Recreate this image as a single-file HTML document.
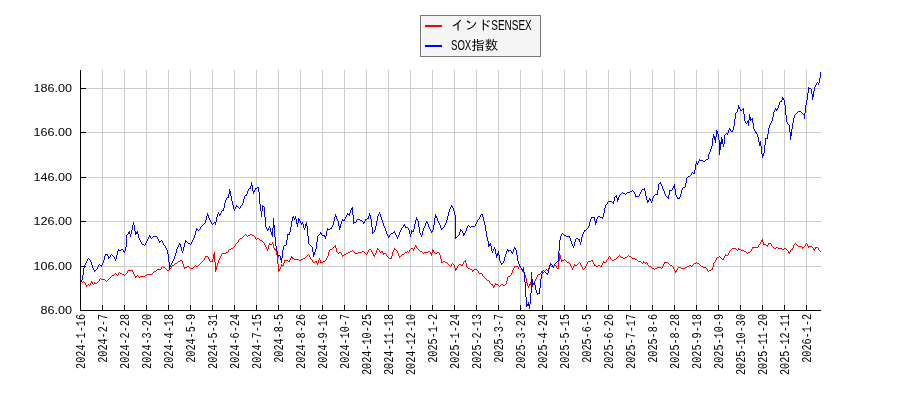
<!DOCTYPE html>
<html lang="ja"><head><meta charset="utf-8"><title>インドSENSEX / SOX指数</title>
<style>
html,body{margin:0;padding:0;background:#fff;}
body{width:900px;height:400px;overflow:hidden;position:relative;}
svg{position:absolute;left:0;top:0;display:block;}
.yl{font-family:"Liberation Sans",sans-serif;font-size:11.2px;fill:#000;}
.xl{font-family:"Liberation Mono",monospace;font-size:12.6px;fill:#000;}
.lg{font-family:"Liberation Sans","IPAGothic",sans-serif;font-size:13.45px;fill:#000;}
</style></head><body>
<svg width="900" height="400" viewBox="0 0 900 400">
<rect width="900" height="400" fill="#fff"/>
<g shape-rendering="crispEdges">
<rect x="102" y="70" width="1" height="240" fill="#ccc"/>
<rect x="124" y="70" width="1" height="240" fill="#ccc"/>
<rect x="146" y="70" width="1" height="240" fill="#ccc"/>
<rect x="168" y="70" width="1" height="240" fill="#ccc"/>
<rect x="190" y="70" width="1" height="240" fill="#ccc"/>
<rect x="212" y="70" width="1" height="240" fill="#ccc"/>
<rect x="234" y="70" width="1" height="240" fill="#ccc"/>
<rect x="256" y="70" width="1" height="240" fill="#ccc"/>
<rect x="278" y="70" width="1" height="240" fill="#ccc"/>
<rect x="300" y="70" width="1" height="240" fill="#ccc"/>
<rect x="322" y="70" width="1" height="240" fill="#ccc"/>
<rect x="344" y="70" width="1" height="240" fill="#ccc"/>
<rect x="366" y="70" width="1" height="240" fill="#ccc"/>
<rect x="388" y="70" width="1" height="240" fill="#ccc"/>
<rect x="410" y="70" width="1" height="240" fill="#ccc"/>
<rect x="432" y="70" width="1" height="240" fill="#ccc"/>
<rect x="454" y="70" width="1" height="240" fill="#ccc"/>
<rect x="476" y="70" width="1" height="240" fill="#ccc"/>
<rect x="498" y="70" width="1" height="240" fill="#ccc"/>
<rect x="520" y="70" width="1" height="240" fill="#ccc"/>
<rect x="542" y="70" width="1" height="240" fill="#ccc"/>
<rect x="564" y="70" width="1" height="240" fill="#ccc"/>
<rect x="586" y="70" width="1" height="240" fill="#ccc"/>
<rect x="608" y="70" width="1" height="240" fill="#ccc"/>
<rect x="630" y="70" width="1" height="240" fill="#ccc"/>
<rect x="652" y="70" width="1" height="240" fill="#ccc"/>
<rect x="674" y="70" width="1" height="240" fill="#ccc"/>
<rect x="696" y="70" width="1" height="240" fill="#ccc"/>
<rect x="718" y="70" width="1" height="240" fill="#ccc"/>
<rect x="740" y="70" width="1" height="240" fill="#ccc"/>
<rect x="762" y="70" width="1" height="240" fill="#ccc"/>
<rect x="784" y="70" width="1" height="240" fill="#ccc"/>
<rect x="806" y="70" width="1" height="240" fill="#ccc"/>
<rect x="81" y="88" width="740" height="1" fill="#ccc"/>
<rect x="81" y="132" width="740" height="1" fill="#ccc"/>
<rect x="81" y="177" width="740" height="1" fill="#ccc"/>
<rect x="81" y="221" width="740" height="1" fill="#ccc"/>
<rect x="81" y="266" width="740" height="1" fill="#ccc"/>
<rect x="80" y="70" width="1" height="241" fill="#000"/>
<rect x="80" y="310" width="741" height="1" fill="#000"/>
<rect x="80" y="305" width="1" height="5" fill="#000"/>
<rect x="102" y="305" width="1" height="5" fill="#000"/>
<rect x="124" y="305" width="1" height="5" fill="#000"/>
<rect x="146" y="305" width="1" height="5" fill="#000"/>
<rect x="168" y="305" width="1" height="5" fill="#000"/>
<rect x="190" y="305" width="1" height="5" fill="#000"/>
<rect x="212" y="305" width="1" height="5" fill="#000"/>
<rect x="234" y="305" width="1" height="5" fill="#000"/>
<rect x="256" y="305" width="1" height="5" fill="#000"/>
<rect x="278" y="305" width="1" height="5" fill="#000"/>
<rect x="300" y="305" width="1" height="5" fill="#000"/>
<rect x="322" y="305" width="1" height="5" fill="#000"/>
<rect x="344" y="305" width="1" height="5" fill="#000"/>
<rect x="366" y="305" width="1" height="5" fill="#000"/>
<rect x="388" y="305" width="1" height="5" fill="#000"/>
<rect x="410" y="305" width="1" height="5" fill="#000"/>
<rect x="432" y="305" width="1" height="5" fill="#000"/>
<rect x="454" y="305" width="1" height="5" fill="#000"/>
<rect x="476" y="305" width="1" height="5" fill="#000"/>
<rect x="498" y="305" width="1" height="5" fill="#000"/>
<rect x="520" y="305" width="1" height="5" fill="#000"/>
<rect x="542" y="305" width="1" height="5" fill="#000"/>
<rect x="564" y="305" width="1" height="5" fill="#000"/>
<rect x="586" y="305" width="1" height="5" fill="#000"/>
<rect x="608" y="305" width="1" height="5" fill="#000"/>
<rect x="630" y="305" width="1" height="5" fill="#000"/>
<rect x="652" y="305" width="1" height="5" fill="#000"/>
<rect x="674" y="305" width="1" height="5" fill="#000"/>
<rect x="696" y="305" width="1" height="5" fill="#000"/>
<rect x="718" y="305" width="1" height="5" fill="#000"/>
<rect x="740" y="305" width="1" height="5" fill="#000"/>
<rect x="762" y="305" width="1" height="5" fill="#000"/>
<rect x="784" y="305" width="1" height="5" fill="#000"/>
<rect x="806" y="305" width="1" height="5" fill="#000"/>
<rect x="81" y="88" width="5" height="1" fill="#000"/>
<rect x="81" y="132" width="5" height="1" fill="#000"/>
<rect x="81" y="177" width="5" height="1" fill="#000"/>
<rect x="81" y="221" width="5" height="1" fill="#000"/>
<rect x="81" y="266" width="5" height="1" fill="#000"/>
<rect x="81" y="310" width="5" height="1" fill="#000"/>
</g>
<path fill="#f00" shape-rendering="crispEdges" d="M81 281h1v1h-1zM82 282h1v1h-1zM83 281h1v1h-1zM84 282h1v1h-1zM85 283h1v2h-1zM86 285h1v2h-1zM87 285h1v1h-1zM88 284h1v1h-1zM89 285h1v1h-1zM90 283h1v2h-1zM91 281h1v2h-1zM92 282h1v2h-1zM93 284h1v1h-1zM94 282h1v2h-1zM95 283h1v1h-1zM96 283h1v1h-1zM97 282h1v1h-1zM98 281h1v1h-1zM99 279h1v2h-1zM100 278h1v1h-1zM101 279h1v1h-1zM102 279h1v1h-1zM103 279h1v1h-1zM104 279h1v1h-1zM105 280h1v1h-1zM106 281h1v1h-1zM107 280h1v1h-1zM108 279h1v1h-1zM109 278h1v1h-1zM110 277h1v1h-1zM111 276h1v1h-1zM112 275h1v1h-1zM113 275h1v1h-1zM114 274h1v1h-1zM115 273h1v1h-1zM116 274h1v1h-1zM117 275h1v1h-1zM118 273h1v2h-1zM119 272h1v1h-1zM120 273h1v1h-1zM121 273h1v1h-1zM122 274h1v1h-1zM123 274h1v1h-1zM124 275h1v1h-1zM125 274h1v1h-1zM126 273h1v1h-1zM127 271h1v2h-1zM128 270h1v1h-1zM129 270h1v1h-1zM130 270h1v1h-1zM131 270h1v1h-1zM132 270h1v2h-1zM133 272h1v2h-1zM134 274h1v2h-1zM135 276h1v2h-1zM136 276h1v1h-1zM137 275h1v1h-1zM138 276h1v1h-1zM139 277h1v1h-1zM140 276h1v1h-1zM141 276h1v1h-1zM142 276h1v1h-1zM143 276h1v1h-1zM144 276h1v1h-1zM145 275h1v1h-1zM146 275h1v1h-1zM147 274h1v1h-1zM148 274h1v1h-1zM149 274h1v1h-1zM150 274h1v1h-1zM151 274h1v1h-1zM152 273h1v1h-1zM153 272h1v1h-1zM154 271h1v1h-1zM155 271h1v1h-1zM156 270h1v1h-1zM157 269h1v1h-1zM158 269h1v1h-1zM159 269h1v1h-1zM160 269h1v1h-1zM161 267h1v2h-1zM162 266h1v1h-1zM163 267h1v1h-1zM164 267h1v1h-1zM165 268h1v1h-1zM166 269h1v1h-1zM167 270h1v1h-1zM168 270h1v1h-1zM169 269h1v1h-1zM170 268h1v1h-1zM171 266h1v2h-1zM172 265h1v1h-1zM173 265h1v1h-1zM174 264h1v1h-1zM175 263h1v1h-1zM176 263h1v1h-1zM177 262h1v1h-1zM178 261h1v1h-1zM179 261h1v1h-1zM180 260h1v1h-1zM181 260h1v1h-1zM182 261h1v3h-1zM183 264h1v3h-1zM184 267h1v2h-1zM185 267h1v1h-1zM186 267h1v1h-1zM187 266h1v1h-1zM188 266h1v1h-1zM189 267h1v1h-1zM190 268h1v1h-1zM191 268h1v1h-1zM192 268h1v1h-1zM193 267h1v1h-1zM194 266h1v1h-1zM195 265h1v1h-1zM196 266h1v1h-1zM197 266h1v1h-1zM198 265h1v1h-1zM199 264h1v1h-1zM200 263h1v1h-1zM201 262h1v1h-1zM202 261h1v1h-1zM203 260h1v1h-1zM204 258h1v2h-1zM205 256h1v2h-1zM206 256h1v1h-1zM207 256h1v1h-1zM208 257h1v2h-1zM209 259h1v2h-1zM210 261h1v1h-1zM211 261h1v1h-1zM212 259h1v3h-1zM213 254h1v5h-1zM214 252h1v10h-1zM215 262h1v10h-1zM216 266h1v4h-1zM217 263h1v3h-1zM218 260h1v3h-1zM219 258h1v2h-1zM220 256h1v2h-1zM221 254h1v2h-1zM222 253h1v1h-1zM223 253h1v1h-1zM224 253h1v1h-1zM225 253h1v1h-1zM226 252h1v1h-1zM227 252h1v1h-1zM228 250h1v2h-1zM229 249h1v1h-1zM230 249h1v1h-1zM231 248h1v1h-1zM232 248h1v1h-1zM233 247h1v1h-1zM234 246h1v1h-1zM235 244h1v2h-1zM236 243h1v1h-1zM237 242h1v1h-1zM238 240h1v2h-1zM239 239h1v1h-1zM240 238h1v1h-1zM241 238h1v1h-1zM242 237h1v1h-1zM243 236h1v1h-1zM244 235h1v1h-1zM245 234h1v1h-1zM246 235h1v1h-1zM247 236h1v1h-1zM248 235h1v1h-1zM249 235h1v1h-1zM250 234h1v1h-1zM251 234h1v1h-1zM252 235h1v1h-1zM253 235h1v1h-1zM254 236h1v1h-1zM255 237h1v2h-1zM256 239h1v1h-1zM257 238h1v1h-1zM258 238h1v1h-1zM259 239h1v1h-1zM260 240h1v1h-1zM261 240h1v1h-1zM262 241h1v1h-1zM263 242h1v1h-1zM264 243h1v2h-1zM265 245h1v2h-1zM266 247h1v2h-1zM267 249h1v2h-1zM268 245h1v4h-1zM269 243h1v2h-1zM270 244h1v1h-1zM271 244h1v1h-1zM272 242h1v2h-1zM273 244h1v4h-1zM274 248h1v2h-1zM275 249h1v2h-1zM276 251h1v4h-1zM277 255h1v9h-1zM278 264h1v8h-1zM279 269h1v2h-1zM280 267h1v2h-1zM281 264h1v3h-1zM282 265h1v1h-1zM283 263h1v3h-1zM284 260h1v3h-1zM285 260h1v1h-1zM286 260h1v1h-1zM287 260h1v1h-1zM288 261h1v1h-1zM289 260h1v2h-1zM290 258h1v2h-1zM291 256h1v2h-1zM292 257h1v2h-1zM293 258h1v1h-1zM294 259h1v1h-1zM295 259h1v1h-1zM296 259h1v1h-1zM297 259h1v1h-1zM298 259h1v1h-1zM299 260h1v1h-1zM300 260h1v1h-1zM301 259h1v1h-1zM302 259h1v1h-1zM303 258h1v1h-1zM304 258h1v1h-1zM305 257h1v1h-1zM306 256h1v1h-1zM307 255h1v1h-1zM308 254h1v1h-1zM309 255h1v2h-1zM310 257h1v2h-1zM311 259h1v1h-1zM312 260h1v2h-1zM313 262h1v1h-1zM314 262h1v1h-1zM315 261h1v1h-1zM316 261h1v2h-1zM317 263h1v2h-1zM318 260h1v3h-1zM319 258h1v2h-1zM320 260h1v3h-1zM321 262h1v1h-1zM322 262h1v1h-1zM323 261h1v1h-1zM324 261h1v1h-1zM325 260h1v1h-1zM326 258h1v2h-1zM327 256h1v2h-1zM328 252h1v4h-1zM329 250h1v2h-1zM330 249h1v1h-1zM331 249h1v1h-1zM332 248h1v1h-1zM333 247h1v1h-1zM334 246h1v1h-1zM335 245h1v3h-1zM336 248h1v4h-1zM337 252h1v1h-1zM338 253h1v1h-1zM339 252h1v1h-1zM340 252h1v1h-1zM341 253h1v2h-1zM342 255h1v2h-1zM343 255h1v1h-1zM344 254h1v1h-1zM345 254h1v1h-1zM346 253h1v1h-1zM347 253h1v1h-1zM348 252h1v1h-1zM349 252h1v1h-1zM350 251h1v1h-1zM351 251h1v1h-1zM352 250h1v1h-1zM353 251h1v1h-1zM354 252h1v1h-1zM355 253h1v1h-1zM356 253h1v1h-1zM357 253h1v1h-1zM358 252h1v1h-1zM359 252h1v1h-1zM360 252h1v1h-1zM361 252h1v1h-1zM362 251h1v1h-1zM363 251h1v1h-1zM364 252h1v1h-1zM365 253h1v1h-1zM366 254h1v1h-1zM367 252h1v2h-1zM368 250h1v2h-1zM369 249h1v1h-1zM370 249h1v1h-1zM371 250h1v2h-1zM372 252h1v2h-1zM373 254h1v2h-1zM374 255h1v2h-1zM375 253h1v2h-1zM376 250h1v3h-1zM377 248h1v2h-1zM378 249h1v1h-1zM379 250h1v2h-1zM380 252h1v1h-1zM381 251h1v1h-1zM382 251h1v2h-1zM383 253h1v2h-1zM384 253h1v1h-1zM385 253h1v1h-1zM386 254h1v2h-1zM387 256h1v1h-1zM388 257h1v1h-1zM389 258h1v1h-1zM390 258h1v1h-1zM391 256h1v3h-1zM392 252h1v4h-1zM393 250h1v2h-1zM394 248h1v2h-1zM395 249h1v1h-1zM396 250h1v1h-1zM397 251h1v2h-1zM398 253h1v3h-1zM399 256h1v2h-1zM400 256h1v1h-1zM401 255h1v1h-1zM402 254h1v1h-1zM403 254h1v1h-1zM404 253h1v1h-1zM405 252h1v1h-1zM406 252h1v1h-1zM407 251h1v1h-1zM408 252h1v1h-1zM409 250h1v2h-1zM410 249h1v1h-1zM411 248h1v1h-1zM412 248h1v1h-1zM413 249h1v2h-1zM414 247h1v2h-1zM415 245h1v2h-1zM416 246h1v2h-1zM417 248h1v1h-1zM418 249h1v1h-1zM419 250h1v1h-1zM420 251h1v1h-1zM421 251h1v1h-1zM422 252h1v1h-1zM423 253h1v1h-1zM424 252h1v1h-1zM425 252h1v1h-1zM426 252h1v1h-1zM427 252h1v1h-1zM428 251h1v1h-1zM429 251h1v1h-1zM430 252h1v2h-1zM431 253h1v3h-1zM432 249h1v4h-1zM433 250h1v2h-1zM434 252h1v1h-1zM435 253h1v1h-1zM436 253h1v1h-1zM437 252h1v1h-1zM438 252h1v1h-1zM439 253h1v2h-1zM440 255h1v4h-1zM441 259h1v4h-1zM442 262h1v1h-1zM443 261h1v1h-1zM444 261h1v1h-1zM445 262h1v1h-1zM446 262h1v1h-1zM447 263h1v1h-1zM448 264h1v1h-1zM449 265h1v1h-1zM450 266h1v1h-1zM451 264h1v2h-1zM452 263h1v1h-1zM453 264h1v1h-1zM454 265h1v3h-1zM455 268h1v3h-1zM456 268h1v2h-1zM457 266h1v2h-1zM458 265h1v1h-1zM459 264h1v1h-1zM460 264h1v1h-1zM461 265h1v1h-1zM462 264h1v2h-1zM463 262h1v2h-1zM464 261h1v1h-1zM465 260h1v3h-1zM466 263h1v4h-1zM467 267h1v1h-1zM468 268h1v1h-1zM469 268h1v1h-1zM470 269h1v1h-1zM471 269h1v1h-1zM472 270h1v2h-1zM473 270h1v1h-1zM474 269h1v1h-1zM475 269h1v1h-1zM476 269h1v1h-1zM477 270h1v1h-1zM478 271h1v2h-1zM479 273h1v1h-1zM480 273h1v1h-1zM481 273h1v1h-1zM482 274h1v2h-1zM483 276h1v1h-1zM484 277h1v1h-1zM485 278h1v1h-1zM486 279h1v1h-1zM487 280h1v1h-1zM488 280h1v1h-1zM489 281h1v2h-1zM490 283h1v1h-1zM491 284h1v1h-1zM492 284h1v2h-1zM493 286h1v2h-1zM494 285h1v2h-1zM495 283h1v2h-1zM496 284h1v1h-1zM497 284h1v1h-1zM498 285h1v1h-1zM499 286h1v1h-1zM500 285h1v1h-1zM501 284h1v1h-1zM502 284h1v1h-1zM503 285h1v1h-1zM504 285h1v1h-1zM505 284h1v1h-1zM506 281h1v3h-1zM507 277h1v4h-1zM508 276h1v1h-1zM509 276h1v1h-1zM510 275h1v1h-1zM511 273h1v2h-1zM512 270h1v3h-1zM513 268h1v2h-1zM514 266h1v2h-1zM515 266h1v1h-1zM516 266h1v1h-1zM517 266h1v1h-1zM518 267h1v2h-1zM519 265h1v2h-1zM520 266h1v2h-1zM521 268h1v2h-1zM522 270h1v2h-1zM523 272h1v1h-1zM524 273h1v2h-1zM525 275h1v3h-1zM526 278h1v5h-1zM527 283h1v3h-1zM528 286h1v2h-1zM529 284h1v2h-1zM530 282h1v3h-1zM531 285h1v4h-1zM532 285h1v2h-1zM533 283h1v2h-1zM534 281h1v2h-1zM535 279h1v2h-1zM536 277h1v2h-1zM537 275h1v2h-1zM538 274h1v1h-1zM539 274h1v1h-1zM540 273h1v1h-1zM541 271h1v2h-1zM542 272h1v1h-1zM543 272h1v1h-1zM544 271h1v1h-1zM545 270h1v1h-1zM546 269h1v1h-1zM547 270h1v1h-1zM548 268h1v3h-1zM549 265h1v3h-1zM550 265h1v1h-1zM551 266h1v1h-1zM552 266h1v1h-1zM553 266h1v1h-1zM554 265h1v1h-1zM555 265h1v1h-1zM556 266h1v2h-1zM557 268h1v1h-1zM558 261h1v8h-1zM559 253h1v8h-1zM560 255h1v4h-1zM561 259h1v3h-1zM562 260h1v1h-1zM563 260h1v1h-1zM564 259h1v1h-1zM565 260h1v1h-1zM566 261h1v1h-1zM567 262h1v1h-1zM568 262h1v1h-1zM569 263h1v1h-1zM570 264h1v2h-1zM571 266h1v2h-1zM572 268h1v2h-1zM573 266h1v2h-1zM574 264h1v2h-1zM575 265h1v1h-1zM576 265h1v1h-1zM577 264h1v1h-1zM578 263h1v1h-1zM579 262h1v1h-1zM580 263h1v2h-1zM581 265h1v2h-1zM582 267h1v2h-1zM583 269h1v1h-1zM584 268h1v1h-1zM585 266h1v2h-1zM586 264h1v2h-1zM587 262h1v2h-1zM588 261h1v1h-1zM589 261h1v1h-1zM590 261h1v1h-1zM591 260h1v1h-1zM592 260h1v2h-1zM593 262h1v2h-1zM594 264h1v2h-1zM595 265h1v1h-1zM596 266h1v1h-1zM597 266h1v1h-1zM598 265h1v1h-1zM599 265h1v1h-1zM600 266h1v1h-1zM601 265h1v2h-1zM602 263h1v2h-1zM603 261h1v2h-1zM604 262h1v1h-1zM605 262h1v1h-1zM606 260h1v2h-1zM607 259h1v1h-1zM608 257h1v2h-1zM609 256h1v1h-1zM610 257h1v2h-1zM611 259h1v1h-1zM612 260h1v1h-1zM613 260h1v1h-1zM614 259h1v1h-1zM615 259h1v1h-1zM616 258h1v1h-1zM617 257h1v1h-1zM618 256h1v1h-1zM619 255h1v1h-1zM620 256h1v1h-1zM621 257h1v1h-1zM622 257h1v1h-1zM623 258h1v1h-1zM624 258h1v1h-1zM625 257h1v1h-1zM626 257h1v1h-1zM627 256h1v1h-1zM628 255h1v1h-1zM629 256h1v1h-1zM630 256h1v1h-1zM631 257h1v1h-1zM632 258h1v1h-1zM633 258h1v1h-1zM634 258h1v1h-1zM635 259h1v1h-1zM636 259h1v1h-1zM637 260h1v1h-1zM638 261h1v1h-1zM639 261h1v1h-1zM640 261h1v1h-1zM641 262h1v1h-1zM642 263h1v1h-1zM643 261h1v2h-1zM644 262h1v1h-1zM645 263h1v1h-1zM646 262h1v1h-1zM647 263h1v2h-1zM648 265h1v1h-1zM649 266h1v1h-1zM650 266h1v1h-1zM651 267h1v1h-1zM652 268h1v1h-1zM653 268h1v1h-1zM654 269h1v1h-1zM655 268h1v1h-1zM656 268h1v1h-1zM657 267h1v1h-1zM658 267h1v1h-1zM659 267h1v1h-1zM660 267h1v1h-1zM661 268h1v1h-1zM662 266h1v2h-1zM663 264h1v2h-1zM664 262h1v2h-1zM665 262h1v1h-1zM666 262h1v1h-1zM667 262h1v1h-1zM668 263h1v1h-1zM669 264h1v1h-1zM670 265h1v1h-1zM671 265h1v1h-1zM672 266h1v1h-1zM673 267h1v2h-1zM674 269h1v2h-1zM675 271h1v2h-1zM676 270h1v2h-1zM677 268h1v2h-1zM678 267h1v1h-1zM679 267h1v1h-1zM680 267h1v1h-1zM681 268h1v1h-1zM682 268h1v1h-1zM683 268h1v1h-1zM684 268h1v1h-1zM685 267h1v1h-1zM686 267h1v1h-1zM687 266h1v1h-1zM688 266h1v1h-1zM689 265h1v1h-1zM690 265h1v1h-1zM691 266h1v1h-1zM692 265h1v1h-1zM693 264h1v1h-1zM694 263h1v1h-1zM695 263h1v1h-1zM696 262h1v1h-1zM697 263h1v1h-1zM698 263h1v1h-1zM699 264h1v1h-1zM700 265h1v1h-1zM701 266h1v1h-1zM702 266h1v1h-1zM703 267h1v1h-1zM704 267h1v1h-1zM705 267h1v1h-1zM706 268h1v1h-1zM707 269h1v2h-1zM708 271h1v1h-1zM709 270h1v1h-1zM710 270h1v1h-1zM711 269h1v1h-1zM712 267h1v3h-1zM713 263h1v4h-1zM714 262h1v1h-1zM715 260h1v2h-1zM716 258h1v2h-1zM717 257h1v1h-1zM718 257h1v1h-1zM719 256h1v1h-1zM720 257h1v1h-1zM721 258h1v1h-1zM722 259h1v1h-1zM723 258h1v2h-1zM724 256h1v2h-1zM725 254h1v2h-1zM726 255h1v1h-1zM727 255h1v1h-1zM728 253h1v2h-1zM729 251h1v2h-1zM730 250h1v1h-1zM731 249h1v1h-1zM732 248h1v1h-1zM733 248h1v1h-1zM734 248h1v1h-1zM735 248h1v1h-1zM736 249h1v1h-1zM737 250h1v1h-1zM738 248h1v2h-1zM739 249h1v1h-1zM740 249h1v1h-1zM741 250h1v1h-1zM742 250h1v1h-1zM743 250h1v1h-1zM744 251h1v1h-1zM745 251h1v1h-1zM746 252h1v1h-1zM747 253h1v1h-1zM748 252h1v1h-1zM749 252h1v1h-1zM750 251h1v1h-1zM751 249h1v2h-1zM752 247h1v2h-1zM753 247h1v1h-1zM754 247h1v1h-1zM755 247h1v1h-1zM756 247h1v1h-1zM757 247h1v1h-1zM758 245h1v2h-1zM759 244h1v1h-1zM760 242h1v2h-1zM761 240h1v2h-1zM762 239h1v3h-1zM763 242h1v3h-1zM764 244h1v1h-1zM765 244h1v1h-1zM766 245h1v1h-1zM767 245h1v2h-1zM768 243h1v2h-1zM769 243h1v1h-1zM770 243h1v1h-1zM771 244h1v2h-1zM772 246h1v1h-1zM773 247h1v1h-1zM774 248h1v1h-1zM775 248h1v1h-1zM776 247h1v1h-1zM777 247h1v1h-1zM778 248h1v1h-1zM779 248h1v1h-1zM780 248h1v1h-1zM781 248h1v1h-1zM782 249h1v1h-1zM783 249h1v1h-1zM784 248h1v1h-1zM785 248h1v1h-1zM786 249h1v1h-1zM787 250h1v1h-1zM788 251h1v2h-1zM789 252h1v2h-1zM790 250h1v2h-1zM791 249h1v1h-1zM792 248h1v2h-1zM793 245h1v3h-1zM794 244h1v1h-1zM795 243h1v1h-1zM796 244h1v1h-1zM797 245h1v1h-1zM798 246h1v1h-1zM799 246h1v1h-1zM800 246h1v1h-1zM801 246h1v1h-1zM802 247h1v2h-1zM803 247h1v1h-1zM804 246h1v1h-1zM805 244h1v2h-1zM806 243h1v1h-1zM807 244h1v2h-1zM808 246h1v2h-1zM809 246h1v1h-1zM810 246h1v1h-1zM811 246h1v1h-1zM812 247h1v1h-1zM813 248h1v2h-1zM814 249h1v2h-1zM815 247h1v2h-1zM816 247h1v1h-1zM817 247h1v1h-1zM818 248h1v2h-1zM819 250h1v1h-1zM820 251h1v1h-1z"/>
<path fill="#00f" shape-rendering="crispEdges" d="M81 280h1v2h-1zM82 275h1v5h-1zM83 268h1v7h-1zM84 265h1v3h-1zM85 263h1v2h-1zM86 261h1v2h-1zM87 259h1v2h-1zM88 258h1v1h-1zM89 259h1v1h-1zM90 260h1v2h-1zM91 262h1v3h-1zM92 265h1v3h-1zM93 268h1v2h-1zM94 270h1v2h-1zM95 270h1v1h-1zM96 269h1v1h-1zM97 267h1v2h-1zM98 265h1v2h-1zM99 264h1v1h-1zM100 265h1v1h-1zM101 265h1v2h-1zM102 263h1v2h-1zM103 260h1v3h-1zM104 256h1v4h-1zM105 254h1v2h-1zM106 254h1v1h-1zM107 254h1v2h-1zM108 256h1v3h-1zM109 257h1v1h-1zM110 255h1v2h-1zM111 254h1v1h-1zM112 255h1v1h-1zM113 256h1v1h-1zM114 257h1v2h-1zM115 259h1v2h-1zM116 255h1v4h-1zM117 251h1v4h-1zM118 249h1v2h-1zM119 250h1v1h-1zM120 250h1v1h-1zM121 249h1v1h-1zM122 249h1v1h-1zM123 250h1v2h-1zM124 251h1v2h-1zM125 247h1v4h-1zM126 235h1v12h-1zM127 234h1v1h-1zM128 232h1v2h-1zM129 231h1v3h-1zM130 234h1v3h-1zM131 230h1v4h-1zM132 225h1v5h-1zM133 222h1v3h-1zM134 225h1v6h-1zM135 231h1v4h-1zM136 232h1v2h-1zM137 231h1v3h-1zM138 234h1v4h-1zM139 238h1v2h-1zM140 240h1v2h-1zM141 242h1v2h-1zM142 244h1v1h-1zM143 244h1v1h-1zM144 245h1v1h-1zM145 243h1v2h-1zM146 241h1v2h-1zM147 239h1v2h-1zM148 237h1v2h-1zM149 235h1v2h-1zM150 236h1v2h-1zM151 238h1v1h-1zM152 237h1v1h-1zM153 236h1v1h-1zM154 236h1v1h-1zM155 236h1v1h-1zM156 236h1v1h-1zM157 237h1v2h-1zM158 239h1v2h-1zM159 241h1v2h-1zM160 241h1v1h-1zM161 240h1v1h-1zM162 241h1v2h-1zM163 243h1v2h-1zM164 245h1v1h-1zM165 246h1v2h-1zM166 248h1v2h-1zM167 250h1v4h-1zM168 254h1v8h-1zM169 262h1v7h-1zM170 265h1v2h-1zM171 263h1v2h-1zM172 261h1v2h-1zM173 259h1v2h-1zM174 256h1v3h-1zM175 253h1v3h-1zM176 249h1v4h-1zM177 247h1v2h-1zM178 245h1v2h-1zM179 243h1v2h-1zM180 244h1v3h-1zM181 247h1v4h-1zM182 251h1v2h-1zM183 247h1v4h-1zM184 243h1v4h-1zM185 240h1v3h-1zM186 241h1v1h-1zM187 242h1v1h-1zM188 243h1v1h-1zM189 243h1v1h-1zM190 244h1v1h-1zM191 242h1v2h-1zM192 240h1v2h-1zM193 238h1v2h-1zM194 235h1v3h-1zM195 231h1v4h-1zM196 228h1v3h-1zM197 229h1v1h-1zM198 230h1v1h-1zM199 229h1v1h-1zM200 227h1v2h-1zM201 226h1v1h-1zM202 225h1v1h-1zM203 224h1v1h-1zM204 223h1v1h-1zM205 220h1v3h-1zM206 216h1v4h-1zM207 213h1v3h-1zM208 215h1v3h-1zM209 218h1v2h-1zM210 220h1v2h-1zM211 222h1v2h-1zM212 224h1v1h-1zM213 223h1v1h-1zM214 222h1v1h-1zM215 222h1v3h-1zM216 217h1v5h-1zM217 214h1v3h-1zM218 212h1v2h-1zM219 214h1v2h-1zM220 213h1v2h-1zM221 211h1v2h-1zM222 210h1v1h-1zM223 208h1v3h-1zM224 203h1v5h-1zM225 200h1v3h-1zM226 198h1v2h-1zM227 197h1v1h-1zM228 194h1v4h-1zM229 189h1v5h-1zM230 191h1v5h-1zM231 196h1v5h-1zM232 201h1v4h-1zM233 205h1v4h-1zM234 209h1v2h-1zM235 207h1v2h-1zM236 205h1v2h-1zM237 206h1v1h-1zM238 207h1v1h-1zM239 208h1v1h-1zM240 206h1v2h-1zM241 205h1v1h-1zM242 203h1v2h-1zM243 199h1v4h-1zM244 196h1v3h-1zM245 195h1v1h-1zM246 194h1v2h-1zM247 191h1v3h-1zM248 189h1v2h-1zM249 188h1v1h-1zM250 186h1v3h-1zM251 182h1v4h-1zM252 185h1v6h-1zM253 191h1v3h-1zM254 190h1v2h-1zM255 188h1v2h-1zM256 188h1v1h-1zM257 187h1v1h-1zM258 187h1v5h-1zM259 192h1v12h-1zM260 204h1v7h-1zM261 211h1v6h-1zM262 205h1v6h-1zM263 206h1v1h-1zM264 207h1v10h-1zM265 217h1v10h-1zM266 227h1v2h-1zM267 229h1v2h-1zM268 228h1v2h-1zM269 226h1v2h-1zM270 228h1v4h-1zM271 232h1v3h-1zM272 228h1v9h-1zM273 218h1v10h-1zM274 225h1v12h-1zM275 237h1v9h-1zM276 246h1v5h-1zM277 251h1v4h-1zM278 255h1v2h-1zM279 255h1v1h-1zM280 256h1v4h-1zM281 258h1v5h-1zM282 250h1v8h-1zM283 246h1v4h-1zM284 245h1v1h-1zM285 245h1v1h-1zM286 240h1v5h-1zM287 234h1v6h-1zM288 234h1v1h-1zM289 232h1v3h-1zM290 227h1v5h-1zM291 221h1v6h-1zM292 217h1v4h-1zM293 216h1v2h-1zM294 218h1v2h-1zM295 216h1v3h-1zM296 219h1v5h-1zM297 223h1v4h-1zM298 218h1v5h-1zM299 219h1v2h-1zM300 221h1v2h-1zM301 223h1v2h-1zM302 222h1v2h-1zM303 224h1v4h-1zM304 228h1v2h-1zM305 224h1v4h-1zM306 222h1v4h-1zM307 226h1v10h-1zM308 236h1v8h-1zM309 244h1v1h-1zM310 245h1v1h-1zM311 246h1v1h-1zM312 247h1v5h-1zM313 252h1v5h-1zM314 252h1v3h-1zM315 249h1v3h-1zM316 242h1v7h-1zM317 236h1v6h-1zM318 235h1v1h-1zM319 234h1v1h-1zM320 232h1v2h-1zM321 233h1v2h-1zM322 235h1v1h-1zM323 235h1v1h-1zM324 235h1v2h-1zM325 236h1v3h-1zM326 231h1v5h-1zM327 228h1v3h-1zM328 229h1v1h-1zM329 229h1v1h-1zM330 228h1v1h-1zM331 227h1v2h-1zM332 225h1v2h-1zM333 221h1v4h-1zM334 217h1v4h-1zM335 214h1v3h-1zM336 216h1v3h-1zM337 219h1v2h-1zM338 221h1v5h-1zM339 226h1v4h-1zM340 224h1v4h-1zM341 221h1v3h-1zM342 219h1v2h-1zM343 220h1v1h-1zM344 219h1v2h-1zM345 217h1v2h-1zM346 215h1v2h-1zM347 213h1v2h-1zM348 214h1v1h-1zM349 213h1v3h-1zM350 210h1v3h-1zM351 208h1v2h-1zM352 207h1v8h-1zM353 215h1v9h-1zM354 222h1v1h-1zM355 222h1v1h-1zM356 220h1v2h-1zM357 219h1v1h-1zM358 219h1v1h-1zM359 219h1v1h-1zM360 220h1v1h-1zM361 220h1v1h-1zM362 221h1v1h-1zM363 222h1v2h-1zM364 221h1v2h-1zM365 219h1v2h-1zM366 219h1v1h-1zM367 218h1v1h-1zM368 216h1v3h-1zM369 213h1v3h-1zM370 215h1v4h-1zM371 219h1v8h-1zM372 227h1v7h-1zM373 232h1v1h-1zM374 230h1v2h-1zM375 226h1v4h-1zM376 221h1v5h-1zM377 216h1v5h-1zM378 214h1v2h-1zM379 212h1v2h-1zM380 214h1v3h-1zM381 217h1v3h-1zM382 220h1v3h-1zM383 223h1v3h-1zM384 226h1v2h-1zM385 228h1v3h-1zM386 231h1v3h-1zM387 234h1v2h-1zM388 236h1v2h-1zM389 235h1v2h-1zM390 234h1v1h-1zM391 233h1v1h-1zM392 233h1v1h-1zM393 232h1v1h-1zM394 231h1v2h-1zM395 233h1v2h-1zM396 235h1v2h-1zM397 237h1v2h-1zM398 235h1v2h-1zM399 232h1v3h-1zM400 230h1v2h-1zM401 228h1v2h-1zM402 227h1v1h-1zM403 225h1v2h-1zM404 224h1v2h-1zM405 226h1v2h-1zM406 227h1v1h-1zM407 227h1v1h-1zM408 228h1v2h-1zM409 230h1v4h-1zM410 234h1v3h-1zM411 230h1v4h-1zM412 231h1v1h-1zM413 229h1v3h-1zM414 224h1v5h-1zM415 220h1v4h-1zM416 217h1v3h-1zM417 219h1v2h-1zM418 221h1v6h-1zM419 227h1v6h-1zM420 233h1v2h-1zM421 235h1v2h-1zM422 231h1v4h-1zM423 228h1v3h-1zM424 226h1v2h-1zM425 223h1v3h-1zM426 221h1v2h-1zM427 222h1v2h-1zM428 224h1v3h-1zM429 227h1v2h-1zM430 229h1v2h-1zM431 231h1v2h-1zM432 230h1v2h-1zM433 225h1v5h-1zM434 218h1v7h-1zM435 214h1v4h-1zM436 216h1v2h-1zM437 218h1v3h-1zM438 221h1v2h-1zM439 223h1v2h-1zM440 225h1v3h-1zM441 228h1v2h-1zM442 228h1v1h-1zM443 227h1v1h-1zM444 225h1v2h-1zM445 223h1v2h-1zM446 220h1v3h-1zM447 216h1v4h-1zM448 212h1v4h-1zM449 209h1v3h-1zM450 207h1v2h-1zM451 205h1v2h-1zM452 206h1v2h-1zM453 208h1v3h-1zM454 211h1v4h-1zM455 215h1v24h-1zM456 237h1v1h-1zM457 236h1v1h-1zM458 235h1v1h-1zM459 232h1v3h-1zM460 229h1v3h-1zM461 230h1v1h-1zM462 231h1v2h-1zM463 233h1v3h-1zM464 233h1v2h-1zM465 231h1v2h-1zM466 228h1v3h-1zM467 226h1v2h-1zM468 225h1v1h-1zM469 226h1v1h-1zM470 227h1v1h-1zM471 226h1v1h-1zM472 226h1v1h-1zM473 226h1v1h-1zM474 226h1v1h-1zM475 224h1v2h-1zM476 222h1v2h-1zM477 220h1v2h-1zM478 219h1v1h-1zM479 217h1v2h-1zM480 215h1v2h-1zM481 214h1v1h-1zM482 214h1v3h-1zM483 217h1v4h-1zM484 221h1v4h-1zM485 225h1v6h-1zM486 231h1v6h-1zM487 237h1v4h-1zM488 241h1v6h-1zM489 244h1v2h-1zM490 243h1v3h-1zM491 246h1v5h-1zM492 251h1v2h-1zM493 249h1v2h-1zM494 247h1v2h-1zM495 249h1v5h-1zM496 254h1v4h-1zM497 253h1v3h-1zM498 251h1v4h-1zM499 255h1v6h-1zM500 261h1v2h-1zM501 263h1v2h-1zM502 263h1v1h-1zM503 261h1v2h-1zM504 257h1v4h-1zM505 254h1v3h-1zM506 251h1v3h-1zM507 249h1v2h-1zM508 250h1v2h-1zM509 250h1v1h-1zM510 250h1v1h-1zM511 251h1v2h-1zM512 252h1v2h-1zM513 249h1v3h-1zM514 247h1v2h-1zM515 248h1v2h-1zM516 250h1v5h-1zM517 255h1v6h-1zM518 261h1v3h-1zM519 264h1v2h-1zM520 266h1v2h-1zM521 268h1v2h-1zM522 269h1v2h-1zM523 267h1v5h-1zM524 272h1v10h-1zM525 282h1v15h-1zM526 297h1v10h-1zM527 304h1v2h-1zM528 302h1v4h-1zM529 304h1v5h-1zM530 293h1v11h-1zM531 272h1v21h-1zM532 279h1v7h-1zM533 283h1v2h-1zM534 282h1v3h-1zM535 285h1v5h-1zM536 290h1v3h-1zM537 293h1v2h-1zM538 293h1v1h-1zM539 288h1v6h-1zM540 279h1v9h-1zM541 274h1v5h-1zM542 271h1v3h-1zM543 270h1v1h-1zM544 271h1v1h-1zM545 272h1v1h-1zM546 273h1v1h-1zM547 273h1v2h-1zM548 269h1v4h-1zM549 265h1v4h-1zM550 263h1v2h-1zM551 264h1v1h-1zM552 265h1v2h-1zM553 266h1v2h-1zM554 264h1v2h-1zM555 263h1v1h-1zM556 262h1v1h-1zM557 261h1v1h-1zM558 251h1v10h-1zM559 240h1v11h-1zM560 236h1v4h-1zM561 234h1v2h-1zM562 233h1v1h-1zM563 234h1v1h-1zM564 235h1v1h-1zM565 235h1v1h-1zM566 236h1v1h-1zM567 236h1v1h-1zM568 236h1v1h-1zM569 236h1v2h-1zM570 238h1v3h-1zM571 241h1v3h-1zM572 244h1v2h-1zM573 246h1v2h-1zM574 242h1v4h-1zM575 239h1v3h-1zM576 238h1v1h-1zM577 238h1v1h-1zM578 239h1v1h-1zM579 239h1v3h-1zM580 242h1v3h-1zM581 237h1v5h-1zM582 234h1v3h-1zM583 232h1v2h-1zM584 230h1v2h-1zM585 230h1v1h-1zM586 229h1v1h-1zM587 228h1v1h-1zM588 226h1v2h-1zM589 222h1v4h-1zM590 219h1v3h-1zM591 217h1v2h-1zM592 217h1v1h-1zM593 217h1v1h-1zM594 217h1v4h-1zM595 221h1v4h-1zM596 219h1v4h-1zM597 217h1v2h-1zM598 216h1v1h-1zM599 216h1v1h-1zM600 217h1v1h-1zM601 217h1v1h-1zM602 217h1v2h-1zM603 213h1v4h-1zM604 208h1v5h-1zM605 205h1v3h-1zM606 204h1v1h-1zM607 202h1v2h-1zM608 201h1v1h-1zM609 201h1v1h-1zM610 201h1v1h-1zM611 201h1v1h-1zM612 202h1v1h-1zM613 201h1v3h-1zM614 197h1v4h-1zM615 196h1v1h-1zM616 195h1v3h-1zM617 198h1v4h-1zM618 197h1v3h-1zM619 195h1v2h-1zM620 194h1v1h-1zM621 193h1v1h-1zM622 192h1v1h-1zM623 193h1v1h-1zM624 193h1v1h-1zM625 194h1v1h-1zM626 193h1v1h-1zM627 192h1v1h-1zM628 192h1v1h-1zM629 192h1v1h-1zM630 191h1v1h-1zM631 191h1v1h-1zM632 190h1v1h-1zM633 191h1v1h-1zM634 192h1v2h-1zM635 194h1v3h-1zM636 196h1v1h-1zM637 196h1v1h-1zM638 196h1v1h-1zM639 194h1v2h-1zM640 192h1v2h-1zM641 190h1v2h-1zM642 189h1v1h-1zM643 189h1v1h-1zM644 188h1v3h-1zM645 191h1v5h-1zM646 196h1v4h-1zM647 200h1v3h-1zM648 200h1v2h-1zM649 198h1v2h-1zM650 199h1v2h-1zM651 201h1v2h-1zM652 198h1v3h-1zM653 196h1v2h-1zM654 195h1v1h-1zM655 194h1v1h-1zM656 194h1v1h-1zM657 190h1v5h-1zM658 184h1v6h-1zM659 183h1v1h-1zM660 182h1v2h-1zM661 184h1v2h-1zM662 186h1v3h-1zM663 189h1v2h-1zM664 191h1v3h-1zM665 194h1v2h-1zM666 196h1v1h-1zM667 197h1v1h-1zM668 195h1v4h-1zM669 190h1v5h-1zM670 190h1v1h-1zM671 190h1v1h-1zM672 188h1v2h-1zM673 186h1v2h-1zM674 184h1v5h-1zM675 189h1v6h-1zM676 195h1v2h-1zM677 197h1v2h-1zM678 198h1v1h-1zM679 197h1v2h-1zM680 194h1v3h-1zM681 190h1v4h-1zM682 188h1v2h-1zM683 187h1v1h-1zM684 187h1v1h-1zM685 183h1v4h-1zM686 178h1v5h-1zM687 177h1v1h-1zM688 176h1v1h-1zM689 176h1v1h-1zM690 175h1v1h-1zM691 173h1v2h-1zM692 172h1v1h-1zM693 173h1v1h-1zM694 170h1v4h-1zM695 164h1v6h-1zM696 161h1v3h-1zM697 163h1v2h-1zM698 161h1v2h-1zM699 159h1v2h-1zM700 160h1v1h-1zM701 160h1v1h-1zM702 160h1v1h-1zM703 161h1v1h-1zM704 161h1v1h-1zM705 160h1v1h-1zM706 159h1v1h-1zM707 159h1v1h-1zM708 154h1v5h-1zM709 152h1v2h-1zM710 149h1v3h-1zM711 146h1v3h-1zM712 138h1v8h-1zM713 134h1v4h-1zM714 136h1v4h-1zM715 137h1v6h-1zM716 130h1v7h-1zM717 131h1v3h-1zM718 134h1v6h-1zM719 140h1v15h-1zM720 142h1v8h-1zM721 137h1v7h-1zM722 139h1v5h-1zM723 144h1v3h-1zM724 135h1v9h-1zM725 134h1v1h-1zM726 133h1v1h-1zM727 133h1v2h-1zM728 130h1v3h-1zM729 128h1v2h-1zM730 129h1v2h-1zM731 131h1v1h-1zM732 130h1v2h-1zM733 126h1v4h-1zM734 119h1v7h-1zM735 113h1v6h-1zM736 112h1v1h-1zM737 109h1v3h-1zM738 105h1v4h-1zM739 107h1v2h-1zM740 109h1v2h-1zM741 110h1v1h-1zM742 109h1v1h-1zM743 108h1v6h-1zM744 114h1v7h-1zM745 121h1v2h-1zM746 123h1v1h-1zM747 121h1v2h-1zM748 120h1v6h-1zM749 114h1v6h-1zM750 117h1v4h-1zM751 119h1v1h-1zM752 118h1v5h-1zM753 123h1v6h-1zM754 129h1v2h-1zM755 131h1v2h-1zM756 132h1v2h-1zM757 134h1v3h-1zM758 137h1v5h-1zM759 142h1v4h-1zM760 141h1v5h-1zM761 146h1v8h-1zM762 154h1v4h-1zM763 153h1v3h-1zM764 145h1v8h-1zM765 138h1v7h-1zM766 138h1v1h-1zM767 134h1v5h-1zM768 128h1v6h-1zM769 125h1v3h-1zM770 123h1v2h-1zM771 121h1v2h-1zM772 117h1v4h-1zM773 112h1v5h-1zM774 110h1v2h-1zM775 108h1v2h-1zM776 109h1v2h-1zM777 108h1v2h-1zM778 105h1v3h-1zM779 102h1v3h-1zM780 101h1v1h-1zM781 100h1v2h-1zM782 97h1v3h-1zM783 98h1v2h-1zM784 100h1v5h-1zM785 105h1v10h-1zM786 115h1v7h-1zM787 122h1v2h-1zM788 124h1v1h-1zM789 125h1v7h-1zM790 132h1v8h-1zM791 129h1v7h-1zM792 123h1v6h-1zM793 118h1v5h-1zM794 115h1v3h-1zM795 114h1v1h-1zM796 113h1v1h-1zM797 112h1v1h-1zM798 111h1v1h-1zM799 111h1v1h-1zM800 111h1v1h-1zM801 112h1v1h-1zM802 113h1v1h-1zM803 114h1v1h-1zM804 113h1v6h-1zM805 105h1v8h-1zM806 100h1v5h-1zM807 93h1v7h-1zM808 87h1v6h-1zM809 88h1v1h-1zM810 88h1v1h-1zM811 89h1v5h-1zM812 94h1v6h-1zM813 91h1v6h-1zM814 87h1v4h-1zM815 85h1v2h-1zM816 83h1v2h-1zM817 82h1v1h-1zM818 83h1v2h-1zM819 78h1v5h-1zM820 72h1v6h-1z"/>
<text class="yl" x="33.4" y="92" textLength="38.6" lengthAdjust="spacingAndGlyphs">186.00</text>
<text class="yl" x="33.4" y="136" textLength="38.6" lengthAdjust="spacingAndGlyphs">166.00</text>
<text class="yl" x="33.4" y="181" textLength="38.6" lengthAdjust="spacingAndGlyphs">146.00</text>
<text class="yl" x="33.4" y="225" textLength="38.6" lengthAdjust="spacingAndGlyphs">126.00</text>
<text class="yl" x="33.4" y="270" textLength="38.6" lengthAdjust="spacingAndGlyphs">106.00</text>
<text class="yl" x="40.4" y="314" textLength="31.6" lengthAdjust="spacingAndGlyphs">86.00</text>
<text class="xl" transform="translate(84.5,314) rotate(-90)" x="-54.9" y="0" textLength="54.9" lengthAdjust="spacingAndGlyphs">2024-1-16</text>
<text class="xl" transform="translate(106.5,314) rotate(-90)" x="-48.8" y="0" textLength="48.8" lengthAdjust="spacingAndGlyphs">2024-2-7</text>
<text class="xl" transform="translate(128.5,314) rotate(-90)" x="-54.9" y="0" textLength="54.9" lengthAdjust="spacingAndGlyphs">2024-2-28</text>
<text class="xl" transform="translate(150.5,314) rotate(-90)" x="-54.9" y="0" textLength="54.9" lengthAdjust="spacingAndGlyphs">2024-3-20</text>
<text class="xl" transform="translate(172.5,314) rotate(-90)" x="-54.9" y="0" textLength="54.9" lengthAdjust="spacingAndGlyphs">2024-4-18</text>
<text class="xl" transform="translate(194.5,314) rotate(-90)" x="-48.8" y="0" textLength="48.8" lengthAdjust="spacingAndGlyphs">2024-5-9</text>
<text class="xl" transform="translate(216.5,314) rotate(-90)" x="-54.9" y="0" textLength="54.9" lengthAdjust="spacingAndGlyphs">2024-5-31</text>
<text class="xl" transform="translate(238.5,314) rotate(-90)" x="-54.9" y="0" textLength="54.9" lengthAdjust="spacingAndGlyphs">2024-6-24</text>
<text class="xl" transform="translate(260.5,314) rotate(-90)" x="-54.9" y="0" textLength="54.9" lengthAdjust="spacingAndGlyphs">2024-7-15</text>
<text class="xl" transform="translate(282.5,314) rotate(-90)" x="-48.8" y="0" textLength="48.8" lengthAdjust="spacingAndGlyphs">2024-8-5</text>
<text class="xl" transform="translate(304.5,314) rotate(-90)" x="-54.9" y="0" textLength="54.9" lengthAdjust="spacingAndGlyphs">2024-8-26</text>
<text class="xl" transform="translate(326.5,314) rotate(-90)" x="-54.9" y="0" textLength="54.9" lengthAdjust="spacingAndGlyphs">2024-9-16</text>
<text class="xl" transform="translate(348.5,314) rotate(-90)" x="-54.9" y="0" textLength="54.9" lengthAdjust="spacingAndGlyphs">2024-10-7</text>
<text class="xl" transform="translate(370.5,314) rotate(-90)" x="-61.0" y="0" textLength="61.0" lengthAdjust="spacingAndGlyphs">2024-10-25</text>
<text class="xl" transform="translate(392.5,314) rotate(-90)" x="-61.0" y="0" textLength="61.0" lengthAdjust="spacingAndGlyphs">2024-11-18</text>
<text class="xl" transform="translate(414.5,314) rotate(-90)" x="-61.0" y="0" textLength="61.0" lengthAdjust="spacingAndGlyphs">2024-12-10</text>
<text class="xl" transform="translate(436.5,314) rotate(-90)" x="-48.8" y="0" textLength="48.8" lengthAdjust="spacingAndGlyphs">2025-1-2</text>
<text class="xl" transform="translate(458.5,314) rotate(-90)" x="-54.9" y="0" textLength="54.9" lengthAdjust="spacingAndGlyphs">2025-1-24</text>
<text class="xl" transform="translate(480.5,314) rotate(-90)" x="-54.9" y="0" textLength="54.9" lengthAdjust="spacingAndGlyphs">2025-2-13</text>
<text class="xl" transform="translate(502.5,314) rotate(-90)" x="-48.8" y="0" textLength="48.8" lengthAdjust="spacingAndGlyphs">2025-3-7</text>
<text class="xl" transform="translate(524.5,314) rotate(-90)" x="-54.9" y="0" textLength="54.9" lengthAdjust="spacingAndGlyphs">2025-3-28</text>
<text class="xl" transform="translate(546.5,314) rotate(-90)" x="-54.9" y="0" textLength="54.9" lengthAdjust="spacingAndGlyphs">2025-4-24</text>
<text class="xl" transform="translate(568.5,314) rotate(-90)" x="-54.9" y="0" textLength="54.9" lengthAdjust="spacingAndGlyphs">2025-5-15</text>
<text class="xl" transform="translate(590.5,314) rotate(-90)" x="-48.8" y="0" textLength="48.8" lengthAdjust="spacingAndGlyphs">2025-6-5</text>
<text class="xl" transform="translate(612.5,314) rotate(-90)" x="-54.9" y="0" textLength="54.9" lengthAdjust="spacingAndGlyphs">2025-6-26</text>
<text class="xl" transform="translate(634.5,314) rotate(-90)" x="-54.9" y="0" textLength="54.9" lengthAdjust="spacingAndGlyphs">2025-7-17</text>
<text class="xl" transform="translate(656.5,314) rotate(-90)" x="-48.8" y="0" textLength="48.8" lengthAdjust="spacingAndGlyphs">2025-8-6</text>
<text class="xl" transform="translate(678.5,314) rotate(-90)" x="-54.9" y="0" textLength="54.9" lengthAdjust="spacingAndGlyphs">2025-8-28</text>
<text class="xl" transform="translate(700.5,314) rotate(-90)" x="-54.9" y="0" textLength="54.9" lengthAdjust="spacingAndGlyphs">2025-9-18</text>
<text class="xl" transform="translate(722.5,314) rotate(-90)" x="-54.9" y="0" textLength="54.9" lengthAdjust="spacingAndGlyphs">2025-10-9</text>
<text class="xl" transform="translate(744.5,314) rotate(-90)" x="-61.0" y="0" textLength="61.0" lengthAdjust="spacingAndGlyphs">2025-10-30</text>
<text class="xl" transform="translate(766.5,314) rotate(-90)" x="-61.0" y="0" textLength="61.0" lengthAdjust="spacingAndGlyphs">2025-11-20</text>
<text class="xl" transform="translate(788.5,314) rotate(-90)" x="-61.0" y="0" textLength="61.0" lengthAdjust="spacingAndGlyphs">2025-12-11</text>
<text class="xl" transform="translate(810.5,314) rotate(-90)" x="-48.8" y="0" textLength="48.8" lengthAdjust="spacingAndGlyphs">2026-1-2</text>
<rect x="420.5" y="15.5" width="120" height="41" fill="#f5f5f5" stroke="#777" stroke-width="1"/>
<rect x="425" y="25" width="17" height="2" fill="#f00"/>
<rect x="425" y="45" width="17" height="2" fill="#00f"/>
<text class="lg" x="451" y="29.8">インド<tspan font-size="14" textLength="40.35" lengthAdjust="spacingAndGlyphs">SENSEX</tspan></text>
<text class="lg" x="451" y="49.8"><tspan font-size="14" textLength="20.2" lengthAdjust="spacingAndGlyphs">SOX</tspan>指数</text>
</svg></body></html>
